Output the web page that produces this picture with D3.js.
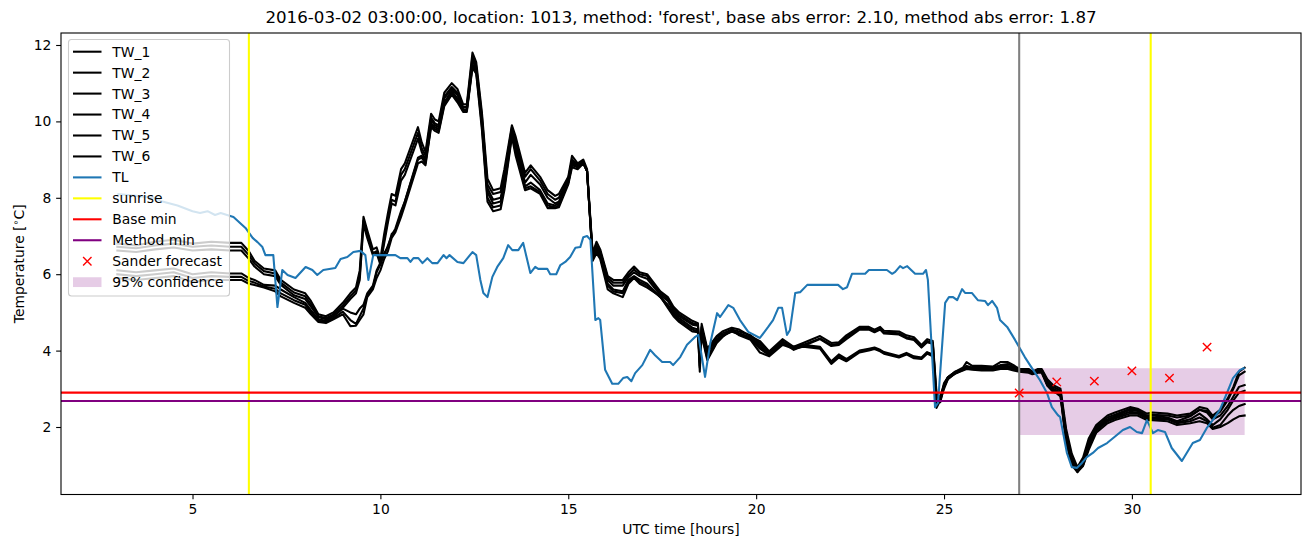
<!DOCTYPE html>
<html><head><meta charset="utf-8">
<script src="https://cdn.jsdelivr.net/npm/d3@7"></script>
<style>
body{margin:0;background:#fff;}
text{font-family:"DejaVu Sans",sans-serif;fill:#000;}
</style>
</head><body>
<svg id="chart" width="1310" height="547"></svg>
<script>
// ---------------- data ----------------
const titleText = "2016-03-02 03:00:00, location: 1013, method: 'forest', base abs error: 2.10, method abs error: 1.87";
const xLabel = "UTC time [hours]";
const xTicks = [5, 10, 15, 20, 25, 30];
const yTicks = [2, 4, 6, 8, 10, 12];

const hours = [
  3.0, 3.5, 4.0, 4.5, 5.0, 5.5, 6.0,
  6.3, 6.5, 6.65, 6.9, 7.2, 7.35, 7.7, 8.0,
  8.15, 8.35, 8.55, 8.75, 9.0, 9.2, 9.35, 9.45,
  9.55, 9.65, 9.8, 9.9, 10.0, 10.1, 10.2, 10.3, 10.4,
  10.55, 10.65, 11.0, 11.1, 11.2, 11.35, 11.45, 11.55,
  11.7, 11.9, 12.05, 12.2, 12.3, 12.45, 12.55,
  12.7, 12.85, 13.0, 13.2, 13.3, 13.5, 13.6,
  13.85, 14.0, 14.25, 14.45, 14.65, 14.75, 15.0,
  15.1, 15.25, 15.4, 15.5, 15.65, 15.75, 15.85, 16.05,
  16.2, 16.45, 16.6, 16.75, 16.9, 17.1, 17.45,
  17.65, 17.8, 17.95, 18.3, 18.45, 18.5, 18.55, 18.7,
  18.95, 19.1, 19.35, 19.55, 19.85, 20.1, 20.35, 20.7,
  21.0, 21.25, 21.7, 22.0, 22.2, 22.4, 22.75, 23.0,
  23.15, 23.3, 23.4, 23.8, 24.0, 24.2, 24.4, 24.55, 24.7,
  24.8, 24.9, 25.0, 25.1, 25.3, 25.5, 25.6, 25.75,
  26.0, 26.3, 26.5, 26.7, 26.85, 27.0, 27.25, 27.35, 27.5, 27.6,
  27.75, 27.9, 28.0, 28.1, 28.25, 28.4, 28.55, 28.7, 28.85,
  29.05, 29.35, 29.55, 29.95, 30.15, 30.4, 30.55, 30.95,
  31.2, 31.55, 31.8, 32.0, 32.15, 32.35, 32.55, 32.7, 32.85, 33.0
];

const tw1 = [
  6.8, 6.75, 6.85, 6.9, 6.8, 6.85, 6.82,
  6.82, 6.6, 6.35, 6.15, 6.1, 5.85, 5.6, 5.5,
  5.3, 4.95, 4.9, 5.0, 5.25, 5.5, 5.65, 6.1,
  7.5, 7.15, 6.65, 6.7, 6.4, 7.05, 7.6, 8.1, 8.05,
  8.75, 8.9, 9.85, 9.45, 9.2, 10.2, 10.05, 10.0,
  10.75, 11.0, 10.85, 10.45, 10.45, 11.8, 11.55,
  10.25, 8.5, 8.2, 8.25, 8.75, 9.9, 9.6,
  8.65, 8.85, 8.55, 8.2, 8.05, 8.1, 8.55,
  9.1, 8.9, 9.0, 8.75, 6.55, 6.85, 6.65, 5.95,
  5.85, 5.85, 6.05, 6.2, 6.05, 6.0, 5.55,
  5.4, 5.15, 5.0, 4.78, 4.72, 3.9, 4.7, 4.05,
  4.38, 4.5, 4.6, 4.55, 4.38, 4.25, 3.98, 4.3,
  4.1, 4.2, 4.38, 4.2, 4.22, 4.4, 4.62, 4.62,
  4.55, 4.62, 4.52, 4.5, 4.4, 4.35, 4.15, 4.3, 4.25,
  2.9, 2.75, 3.15, 3.3, 3.45, 3.55, 3.7, 3.6,
  3.6, 3.58, 3.7, 3.7, 3.62, 3.52, 3.52, 3.45, 3.52, 3.52,
  3.25, 3.1, 3.05, 3.0, 1.95, 1.3, 0.95, 1.2, 1.7,
  2.05, 2.3, 2.38, 2.52, 2.48, 2.35, 2.38, 2.35,
  2.3, 2.35, 2.52, 2.48, 2.3, 2.45, 2.75, 3.05, 3.45, 3.55
];
const tw2 = [
  6.72, 6.68, 6.75, 6.8, 6.72, 6.75, 6.72,
  6.72, 6.5, 6.28, 6.08, 6.02, 5.78, 5.52, 5.42,
  5.22, 4.9, 4.85, 4.95, 5.18, 5.42, 5.58, 5.95,
  7.4, 7.05, 6.55, 6.6, 6.3, 6.9, 7.45, 7.95, 7.9,
  8.6, 8.75, 9.7, 9.3, 9.1, 10.1, 9.95, 9.9,
  10.65, 10.9, 10.75, 10.38, 10.38, 11.7, 11.45,
  10.15, 8.35, 8.1, 8.15, 8.6, 9.85, 9.5,
  8.55, 8.75, 8.45, 8.1, 7.95, 8.0, 8.5,
  9.0, 8.85, 8.95, 8.7, 6.5, 6.75, 6.6, 5.9,
  5.78, 5.78, 5.98, 6.12, 6.0, 5.95, 5.5,
  5.35, 5.1, 4.95, 4.72, 4.68, 3.6, 4.62, 4.0,
  4.35, 4.45, 4.55, 4.5, 4.4, 4.2, 3.95, 4.25,
  4.05, 4.15, 4.32, 4.15, 4.18, 4.35, 4.58, 4.58,
  4.5, 4.58, 4.48, 4.45, 4.35, 4.3, 4.1, 4.25, 4.2,
  2.8, 2.7, 3.1, 3.3, 3.45, 3.52, 3.6, 3.55,
  3.55, 3.55, 3.62, 3.65, 3.58, 3.5, 3.5, 3.42, 3.5, 3.5,
  3.2, 3.05, 3.0, 2.95, 1.85, 1.2, 0.88, 1.12, 1.62,
  2.0, 2.25, 2.32, 2.48, 2.45, 2.3, 2.32, 2.3,
  2.25, 2.3, 2.45, 2.42, 2.25, 2.4, 2.7, 3.0, 3.35, 3.45
];
const tw3 = [
  6.62, 6.58, 6.65, 6.7, 6.62, 6.65, 6.62,
  6.62, 6.4, 6.2, 6.0, 5.95, 5.72, 5.45, 5.35,
  5.15, 4.88, 4.82, 4.9, 5.12, 5.35, 5.5, 5.85,
  7.3, 6.95, 6.5, 6.55, 6.25, 6.8, 7.35, 7.85, 7.8,
  8.45, 8.6, 9.55, 9.2, 9.0, 10.05, 9.9, 9.85,
  10.6, 10.85, 10.7, 10.32, 10.32, 11.6, 11.4,
  10.05, 8.25, 7.95, 8.0, 8.45, 9.8, 9.4,
  8.4, 8.6, 8.35, 8.0, 7.85, 7.9, 8.45,
  8.95, 8.85, 8.95, 8.7, 6.45, 6.7, 6.55, 5.85,
  5.7, 5.7, 5.92, 6.05, 5.95, 5.88, 5.45,
  5.3, 5.05, 4.9, 4.68, 4.65, 4.0, 4.6, 3.95,
  4.3, 4.4, 4.5, 4.45, 4.35, 4.15, 3.9, 4.22,
  4.02, 4.12, 4.3, 4.12, 4.15, 4.3, 4.55, 4.55,
  4.48, 4.55, 4.45, 4.42, 4.32, 4.28, 4.08, 4.22, 4.18,
  2.7, 2.65, 3.05, 3.25, 3.42, 3.5, 3.58, 3.55,
  3.55, 3.55, 3.6, 3.6, 3.55, 3.5, 3.48, 3.42, 3.48, 3.48,
  3.15, 3.0, 2.95, 2.9, 1.75, 1.12, 0.82, 1.05, 1.55,
  1.95, 2.2, 2.28, 2.45, 2.42, 2.28, 2.3, 2.25,
  2.15, 2.28, 2.45, 2.38, 2.2, 2.3, 2.55, 2.8, 3.05, 3.1
];
const tw4 = [
  6.1, 6.05, 6.1, 6.15, 6.0, 6.05, 6.02,
  6.02, 5.9, 5.85, 5.72, 5.7, 5.6, 5.4, 5.25,
  5.06, 4.82, 4.78, 4.9, 5.1, 5.0, 4.95, 5.1,
  5.2, 5.5, 5.7, 6.1, 6.3, 6.5, 6.75, 7.0, 7.2,
  7.65, 7.9, 9.05, 9.1, 8.95, 9.95, 9.85, 9.8,
  10.5, 10.8, 10.6, 10.3, 10.3, 11.5, 11.35,
  10.0, 8.15, 7.85, 7.9, 8.4, 9.7, 9.3,
  8.3, 8.4, 8.2, 7.85, 7.8, 7.85, 8.4,
  8.9, 8.8, 8.9, 8.7, 6.4, 6.65, 6.5, 5.75,
  5.6, 5.55, 5.85, 5.95, 5.85, 5.75, 5.4,
  5.2, 5.0, 4.85, 4.6, 4.55, 3.45, 4.5, 3.85,
  4.25, 4.4, 4.52, 4.45, 4.32, 4.1, 3.9, 4.2,
  4.1, 4.15, 4.1, 3.72, 3.9, 3.78, 4.0, 4.05,
  4.08, 4.02, 3.96, 3.86, 3.94, 3.85, 3.82, 3.96, 3.9,
  2.6, 2.8, 3.1, 3.3, 3.42, 3.5, 3.55, 3.55,
  3.52, 3.52, 3.55, 3.58, 3.52, 3.48, 3.45, 3.4, 3.45, 3.45,
  3.12, 2.98, 2.92, 2.85, 1.7, 1.1, 0.85, 1.02, 1.5,
  1.92, 2.18, 2.25, 2.4, 2.38, 2.25, 2.25, 2.22,
  2.12, 2.2, 2.35, 2.2, 2.05, 2.2, 2.45, 2.7, 2.9, 2.95
];
const tw5 = [
  6.0, 5.95, 6.0, 6.05, 5.9, 5.95, 5.93,
  5.93, 5.82, 5.78, 5.68, 5.62, 5.5, 5.32, 5.2,
  5.0, 4.78, 4.75, 4.85, 5.02, 4.8, 4.7, 4.9,
  5.1, 5.45, 5.65, 6.05, 6.25, 6.55, 6.7, 7.05, 7.15,
  7.6, 7.9, 9.0, 9.05, 8.9, 9.9, 9.8, 9.75,
  10.45, 10.75, 10.55, 10.28, 10.28, 11.45, 11.3,
  9.9, 8.0, 7.75, 7.8, 8.3, 9.65, 9.2,
  8.25, 8.3, 8.15, 7.8, 7.75, 7.8, 8.4,
  8.85, 8.8, 8.9, 8.7, 6.4, 6.6, 6.45, 5.7,
  5.55, 5.5, 5.8, 5.92, 5.8, 5.7, 5.4,
  5.15, 4.95, 4.8, 4.55, 4.5, 3.55, 4.45, 3.8,
  4.22, 4.38, 4.5, 4.42, 4.3, 4.05, 3.88, 4.18,
  4.08, 4.12, 4.08, 3.68, 3.86, 3.75, 3.98, 4.02,
  4.06, 4.0, 3.94, 3.84, 3.92, 3.83, 3.8, 3.94, 3.88,
  2.55, 2.75, 3.05, 3.28, 3.4, 3.5, 3.55, 3.52,
  3.5, 3.5, 3.55, 3.55, 3.5, 3.48, 3.45, 3.4, 3.45, 3.45,
  3.1, 2.95, 2.9, 2.82, 1.65, 1.05, 0.85, 1.0, 1.45,
  1.9, 2.15, 2.22, 2.35, 2.35, 2.22, 2.22, 2.2,
  2.1, 2.15, 2.25, 2.15, 1.98, 2.05, 2.3, 2.45, 2.55, 2.6
];
const tw6 = [
  5.9, 5.85, 5.9, 5.95, 5.8, 5.85, 5.85,
  5.85, 5.75, 5.72, 5.65, 5.55, 5.42, 5.25, 5.12,
  4.95, 4.75, 4.72, 4.82, 4.95, 4.64, 4.65, 4.8,
  4.95, 5.4, 5.6, 5.9, 6.1, 6.4, 6.6, 6.95, 7.1,
  7.5, 7.8, 8.9, 8.95, 8.85, 9.85, 9.75, 9.7,
  10.4, 10.7, 10.5, 10.25, 10.25, 11.4, 11.25,
  9.8, 7.9, 7.65, 7.7, 8.2, 9.6, 9.1,
  8.2, 8.25, 8.1, 7.73, 7.73, 7.75, 8.35,
  8.8, 8.75, 8.9, 8.7, 6.35, 6.55, 6.4, 5.6,
  5.5, 5.4, 5.75, 5.9, 5.75, 5.65, 5.42,
  5.12, 4.9, 4.75, 4.5, 4.48, 3.7, 4.4, 3.75,
  4.2, 4.35, 4.55, 4.4, 4.28, 3.95, 3.85, 4.15,
  4.05, 4.1, 4.05, 3.65, 3.82, 3.72, 3.95, 4.0,
  4.04, 3.98, 3.92, 3.82, 3.9, 3.8, 3.78, 3.92, 3.85,
  2.5, 2.7, 3.0, 3.25, 3.4, 3.48, 3.52, 3.5,
  3.48, 3.48, 3.52, 3.52, 3.48, 3.45, 3.42, 3.38, 3.42, 3.42,
  3.08, 2.92, 2.88, 2.8, 1.6, 1.0, 0.82, 0.98, 1.4,
  1.85, 2.1, 2.18, 2.3, 2.3, 2.18, 2.18, 2.15,
  2.05, 2.1, 2.15, 2.1, 1.95, 2.0, 2.1, 2.2, 2.28, 2.3
];
const twNames = ["TW_1", "TW_2", "TW_3", "TW_4", "TW_5", "TW_6"];

// TL: [hour, temperature]
const tl = [
  [3.0,8.1],[3.5,8.05],[4.0,8.0],[4.2,7.9],[4.6,7.8],[5.0,7.65],[5.2,7.6],[5.4,7.65],[5.6,7.55],[5.75,7.6],
  [6.09,7.5],[6.41,7.21],[6.6,6.95],[6.73,6.84],[6.86,6.71],[6.94,6.5],[7.15,6.5],[7.26,5.14],[7.39,6.11],[7.53,5.98],
  [7.74,5.9],[8.01,6.19],[8.19,6.11],[8.32,5.98],[8.48,6.11],[8.8,6.16],[8.94,6.4],[9.12,6.45],[9.28,6.58],[9.47,6.61],
  [9.6,6.5],[9.68,5.85],[9.81,6.5],[10.4,6.5],[10.53,6.42],[10.72,6.42],[10.8,6.32],[10.88,6.42],[11.01,6.42],[11.12,6.29],
  [11.25,6.42],[11.38,6.29],[11.52,6.29],[11.68,6.5],[11.76,6.42],[11.84,6.5],[12.05,6.32],[12.21,6.29],[12.45,6.58],[12.55,6.5],
  [12.66,5.85],[12.74,5.51],[12.85,5.4],[12.98,5.93],[13.11,6.19],[13.27,6.42],[13.4,6.76],[13.51,6.63],[13.67,6.63],[13.8,6.82],
  [13.99,6.03],[14.12,6.19],[14.2,6.14],[14.44,6.14],[14.52,6.0],[14.68,6.0],[14.79,6.24],[14.92,6.32],[15.05,6.45],[15.19,6.69],
  [15.32,6.71],[15.4,6.97],[15.5,7.0],[15.59,6.9],[15.72,4.8],[15.8,4.85],[15.85,4.8],[15.98,3.5],[16.17,3.13],[16.33,3.13],
  [16.46,3.28],[16.57,3.31],[16.68,3.2],[16.78,3.41],[16.97,3.62],[17.18,4.02],[17.31,3.88],[17.5,3.7],[17.71,3.7],[17.79,3.62],
  [17.98,3.83],[18.16,4.15],[18.38,4.36],[18.46,4.41],[18.64,3.31],[18.78,4.2],[18.96,4.98],[19.04,4.88],[19.26,5.19],[19.39,5.12],
  [19.57,4.8],[19.79,4.49],[20.1,4.33],[20.32,4.62],[20.45,4.8],[20.59,5.12],[20.69,5.12],[20.82,4.41],[20.9,4.54],[21.04,5.51],
  [21.17,5.53],[21.36,5.72],[22.18,5.72],[22.31,5.61],[22.42,5.66],[22.55,6.01],[22.9,6.01],[23.0,6.11],[23.48,6.11],[23.62,6.01],
  [23.7,6.06],[23.83,6.21],[23.91,6.16],[24.02,6.21],[24.23,6.01],[24.44,6.01],[24.52,6.11],[24.57,5.85],[24.76,2.52],[24.84,2.63],
  [25.03,5.25],[25.13,5.4],[25.24,5.4],[25.35,5.32],[25.48,5.61],[25.56,5.51],[25.74,5.51],[25.9,5.32],[26.09,5.3],[26.17,5.19],
  [26.28,5.3],[26.41,5.12],[26.49,4.8],[26.68,4.62],[26.89,4.28],[27.15,3.83],[27.34,3.54],[27.55,3.23],[27.74,2.89],[27.87,2.52],
  [28.03,2.31],[28.09,2.26],[28.27,1.32],[28.4,0.95],[28.54,0.93],[28.67,1.06],[28.8,1.21],[28.96,1.32],[29.1,1.45],[29.34,1.58],
  [29.6,1.79],[29.76,1.92],[29.95,2.0],[30.13,1.87],[30.27,1.84],[30.4,2.18],[30.56,1.84],[30.69,1.92],[30.88,1.87],[31.06,1.45],
  [31.33,1.11],[31.62,1.58],[31.81,1.66],[31.99,1.97],[32.15,2.18],[32.34,2.45],[32.53,2.89],[32.69,3.28],[32.87,3.49],[33.0,3.55]
];

const sunriseHours = [6.5, 30.5];
const forecastStartHour = 27;
const baseMin = 2.9;
const methodMin = 2.68;
const forecastHours = [27, 28, 29, 30, 31, 32];
const forecastValues = [2.89, 3.18, 3.2, 3.47, 3.28, 4.09];
const confHours = [27, 33];
const confLower = [1.79, 1.79];
const confUpper = [3.54, 3.54];

// ---------------- drawing ----------------
const twSeries = [tw1, tw2, tw3, tw4, tw5, tw6];
twSeries.forEach((s, i) => { if (s.length !== hours.length) console.error("length mismatch", twNames[i], s.length, hours.length); });

const svg = d3.select("#chart");
const L = 61, R = 1301, T = 33, B = 494.5;
const x = d3.scaleLinear().domain([1.5, 34.5]).range([L, R]);
const y = d3.scaleLinear().domain([0.233, 12.314]).range([B, T]);

svg.append("rect").attr("width", 1310).attr("height", 547).attr("fill", "#fff");
svg.append("defs").append("clipPath").attr("id", "clip")
  .append("rect").attr("x", L).attr("y", T).attr("width", R - L).attr("height", B - T);

const plot = svg.append("g").attr("clip-path", "url(#clip)");

// confidence band
const area = d3.area().x(d => x(d[0])).y0(d => y(d[1])).y1(d => y(d[2]));
plot.append("path")
  .datum(confHours.map((h, i) => [h, confLower[i], confUpper[i]]))
  .attr("d", area).attr("fill", "purple").attr("fill-opacity", 0.2);

const line = d3.line().x(d => x(d[0])).y(d => y(d[1]));

twSeries.forEach(s => {
  plot.append("path").datum(hours.map((h, i) => [h, s[i]]))
    .attr("d", line).attr("fill", "none").attr("stroke", "#000")
    .attr("stroke-width", 2.08).attr("stroke-linejoin", "round").attr("stroke-linecap", "square");
});

plot.append("path").datum(tl).attr("d", line).attr("fill", "none")
  .attr("stroke", "#1f77b4").attr("stroke-width", 2.08).attr("stroke-linejoin", "round");

sunriseHours.forEach(h => {
  plot.append("line").attr("x1", x(h)).attr("x2", x(h)).attr("y1", T).attr("y2", B)
    .attr("stroke", "yellow").attr("stroke-width", 2.08);
});
plot.append("line").attr("x1", x(forecastStartHour)).attr("x2", x(forecastStartHour)).attr("y1", T).attr("y2", B)
  .attr("stroke", "gray").attr("stroke-width", 2.08);

plot.append("line").attr("x1", L).attr("x2", R).attr("y1", y(baseMin)).attr("y2", y(baseMin))
  .attr("stroke", "red").attr("stroke-width", 2.08);
plot.append("line").attr("x1", L).attr("x2", R).attr("y1", y(methodMin)).attr("y2", y(methodMin))
  .attr("stroke", "purple").attr("stroke-width", 2.08);

const xMark = (cx, cy, s) => `M${cx - s},${cy - s}L${cx + s},${cy + s}M${cx - s},${cy + s}L${cx + s},${cy - s}`;
plot.selectAll(".fc").data(forecastHours.map((h, i) => [h, forecastValues[i]])).enter()
  .append("path").attr("d", d => xMark(x(d[0]), y(d[1]), 4.2))
  .attr("stroke", "red").attr("stroke-width", 1.4).attr("fill", "none");

// axes
const xAxis = d3.axisBottom(x).tickValues(xTicks).tickSize(4.86).tickPadding(4.8).tickFormat(d3.format("d"));
const gx = svg.append("g").attr("transform", `translate(0,${B})`).call(xAxis);
const yAxis = d3.axisLeft(y).tickValues(yTicks).tickSize(4.86).tickPadding(4.86).tickFormat(d3.format("d"));
const gy = svg.append("g").attr("transform", `translate(${L},0)`).call(yAxis);
[gx, gy].forEach(g => {
  g.select(".domain").remove();
  g.selectAll(".tick line").attr("stroke", "#000").attr("stroke-width", 1.1);
  g.selectAll(".tick text").attr("font-size", 13.89).attr("font-family", "DejaVu Sans").attr("fill", "#000");
});

svg.append("rect").attr("x", L).attr("y", T).attr("width", R - L).attr("height", B - T)
  .attr("fill", "none").attr("stroke", "#000").attr("stroke-width", 1.1);

// labels
svg.append("text").attr("x", (L + R) / 2).attr("y", 23).attr("text-anchor", "middle")
  .attr("font-size", 16.67).text(titleText);
svg.append("text").attr("x", (L + R) / 2).attr("y", 534).attr("text-anchor", "middle")
  .attr("font-size", 13.89).text(xLabel);
const yl = svg.append("text").attr("transform", `translate(24,${(T + B) / 2}) rotate(-90)`)
  .attr("text-anchor", "middle").attr("font-size", 13.89);
yl.append("tspan").text("Temperature [");
yl.append("tspan").attr("font-size", 9.7).attr("dy", -5).text("\u2218");
yl.append("tspan").attr("dy", 5).text("C]");

// legend
const legendItems = [
  ...twNames.map(n => ({label: n, type: "line", color: "#000"})),
  {label: "TL", type: "line", color: "#1f77b4"},
  {label: "sunrise", type: "line", color: "yellow"},
  {label: "Base min", type: "line", color: "red"},
  {label: "Method min", type: "line", color: "purple"},
  {label: "Sander forecast", type: "marker", color: "red"},
  {label: "95% confidence", type: "patch", color: "purple"}
];
const lg = svg.append("g");
lg.append("rect").attr("x", 68.5).attr("y", 39.5).attr("width", 161).attr("height", 256.5)
  .attr("rx", 3).attr("fill", "#fff").attr("fill-opacity", 0.8)
  .attr("stroke", "#cccccc").attr("stroke-width", 1.1);
legendItems.forEach((it, i) => {
  const cy = 51.7 + i * 20.95;
  if (it.type === "line") {
    lg.append("line").attr("x1", 73).attr("x2", 101.5).attr("y1", cy).attr("y2", cy)
      .attr("stroke", it.color).attr("stroke-width", 2.08);
  } else if (it.type === "marker") {
    lg.append("path").attr("d", xMark(87.3, cy, 4.2)).attr("stroke", it.color).attr("stroke-width", 1.4);
  } else {
    lg.append("rect").attr("x", 73).attr("y", cy - 4.9).attr("width", 28.5).attr("height", 9.8)
      .attr("fill", it.color).attr("fill-opacity", 0.2);
  }
  lg.append("text").attr("x", 112.3).attr("y", cy + 4.9).attr("font-size", 13.89).text(it.label);
});
</script>
</body></html>
